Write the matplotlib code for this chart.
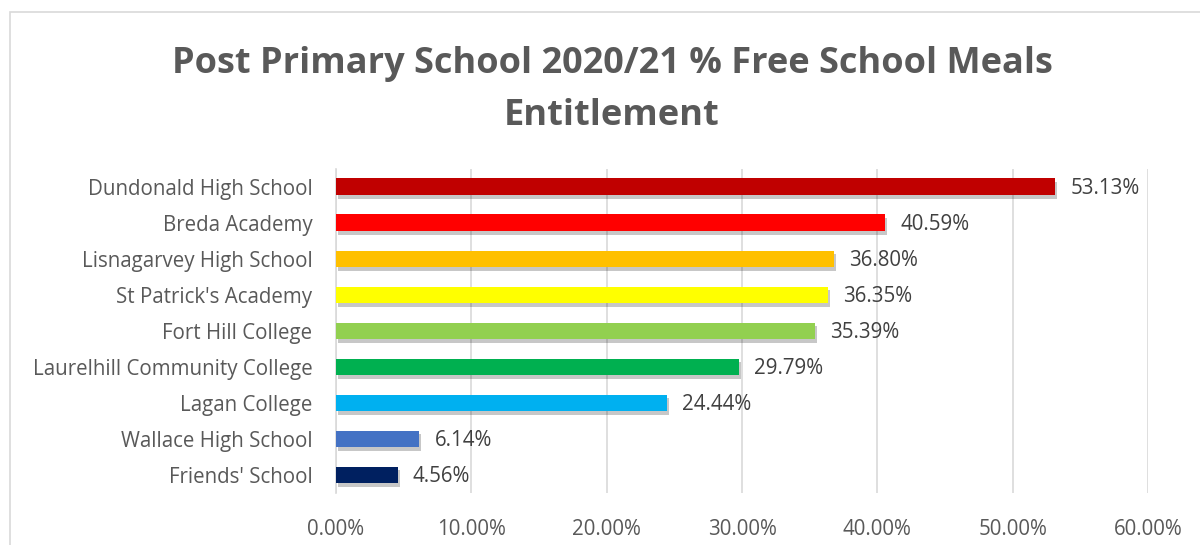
import matplotlib.pyplot as plt
import matplotlib.patheffects as pe
from matplotlib.patches import Rectangle

# ---------------------------------------------------------------------------
# Data
# ---------------------------------------------------------------------------
schools = ["Dundonald High School", "Breda Academy", "Lisnagarvey High School",
           "St Patrick's Academy", "Fort Hill College", "Laurelhill Community College",
           "Lagan College", "Wallace High School", "Friends' School"]
fsm_pct = [53.13, 40.59, 36.80, 36.35, 35.39, 29.79, 24.44, 6.14, 4.56]
bar_colors = ["#C00000", "#FF0000", "#FFC000", "#FFFF00", "#92D050",
              "#00B050", "#00B0F0", "#4472C4", "#002060"]
x_ticks = [0, 10, 20, 30, 40, 50, 60]

TITLE = "Post Primary School 2020/21 % Free School Meals\nEntitlement"
GREY = "#595959"
FONT = ["Open Sans", "DejaVu Sans"]

# ---------------------------------------------------------------------------
# Figure
# ---------------------------------------------------------------------------
plt.rcParams["font.family"] = FONT
fig = plt.figure(figsize=(12, 5.45), dpi=100)
ax = fig.add_axes([0.28, 0.0954, 0.6767, 0.5946])

# chart frame
fig.patches.append(Rectangle((10 / 1200, -0.02), 1.05, 1 - 12 / 545 + 0.02,
                             transform=fig.transFigure, fill=False,
                             edgecolor="#D9D9D9", linewidth=1.2))

y = list(range(len(schools)))
bars = ax.barh(y, fsm_pct, height=0.47, color=bar_colors, zorder=3)
for b in bars:
    b.set_path_effects([pe.SimplePatchShadow(offset=(1.5, -2.5), shadow_rgbFace="#000000",
                                             alpha=0.22), pe.Normal()])

for yi, v in zip(y, fsm_pct):
    ax.annotate(f"{v:.2f}%", (v, yi), xytext=(11, -1), textcoords="offset points",
                va="center", ha="left", fontsize=14.8, color="#404040")

ax.set_xlim(0, 60)
ax.set_ylim(len(schools) - 0.5, -0.5)
ax.set_xticks(x_ticks)
ax.set_xticklabels([f"{t:.2f}%" for t in x_ticks], fontsize=14.8, color=GREY)
ax.set_yticks(y)
ax.set_yticklabels(schools, fontsize=14.8, color=GREY)
ax.tick_params(axis="both", length=0)
ax.tick_params(axis="x", pad=19)
ax.tick_params(axis="y", pad=17)
ax.grid(axis="x", color="#D9D9D9", linewidth=1.2, zorder=0)
for s in ["top", "right", "bottom"]:
    ax.spines[s].set_visible(False)
ax.spines["left"].set_color("#D9D9D9")
ax.spines["left"].set_linewidth(1.2)

fig.text(612 / 1200, 1 - 90 / 545, TITLE, ha="center", va="center",
         fontsize=26, fontweight="bold", color=GREY, linespacing=1.6)

fig.savefig("out.png", dpi=100)
